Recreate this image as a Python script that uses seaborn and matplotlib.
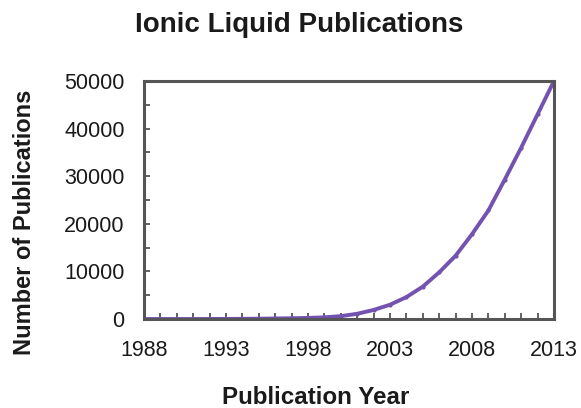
import numpy as np
import pandas as pd
import matplotlib
matplotlib.use('Agg')
import matplotlib.pyplot as plt
from matplotlib.ticker import MultipleLocator
import seaborn as sns

# 読み取った値（概算）
years = list(range(1988, 2014))
pubs = [0, 0, 0, 0, 10, 20, 40, 70, 110, 160, 230, 350, 600, 1100,
        1900, 3000, 4600, 6800, 9800, 13300, 17800, 22800, 29300,
        36000, 43000, 50000]
xticks = [1988, 1993, 1998, 2003, 2008, 2013]
title = 'Ionic Liquid Publications'
xlab = 'Publication Year'
ylab = 'Number of Publications'

df = pd.DataFrame({'year': years, 'pubs': pubs})

sns.set_style('white')
plt.rcParams['font.family'] = ['Liberation Sans', 'DejaVu Sans']

fig = plt.figure(figsize=(5.81, 4.08), dpi=100)
ax = fig.add_axes([0.2478, 0.2181, 0.7057, 0.5834])

sns.lineplot(data=df, x='year', y='pubs', ax=ax, color='#7352b0',
             linewidth=2.8, marker='o', markersize=3, markeredgewidth=0)

ax.set_xlim(1988, 2013)
ax.set_ylim(0, 50000)
ax.set_xticks(xticks)
ax.xaxis.set_minor_locator(MultipleLocator(1))
ax.yaxis.set_major_locator(MultipleLocator(10000))
ax.yaxis.set_minor_locator(MultipleLocator(5000))
ax.tick_params(which='both', direction='in', length=4.5, width=1.3,
               color='#555555', bottom=True, left=True, top=False, right=False,
               labelcolor='#1a1a1a')
ax.tick_params(axis='x', which='major', labelsize=15.5, pad=15)
ax.tick_params(axis='y', which='major', labelsize=15.5, pad=14)
for s in ax.spines.values():
    s.set_color('#555555')
    s.set_linewidth(2.2)
ax.set_xlabel('')
ax.set_ylabel('')

fig.text(299 / 581, 1 - 25 / 408, title, ha='center', va='center',
         fontsize=20, fontweight='bold', color='#1a1a1a')
fig.text(316 / 581, 1 - 397 / 408, xlab, ha='center', va='center',
         fontsize=17.4, fontweight='bold', color='#1a1a1a')
fig.text(25 / 581, 1 - 222 / 408, ylab, ha='center', va='center',
         rotation=90, fontsize=17, fontweight='bold', color='#1a1a1a')

fig.savefig('out.png', dpi=100)
